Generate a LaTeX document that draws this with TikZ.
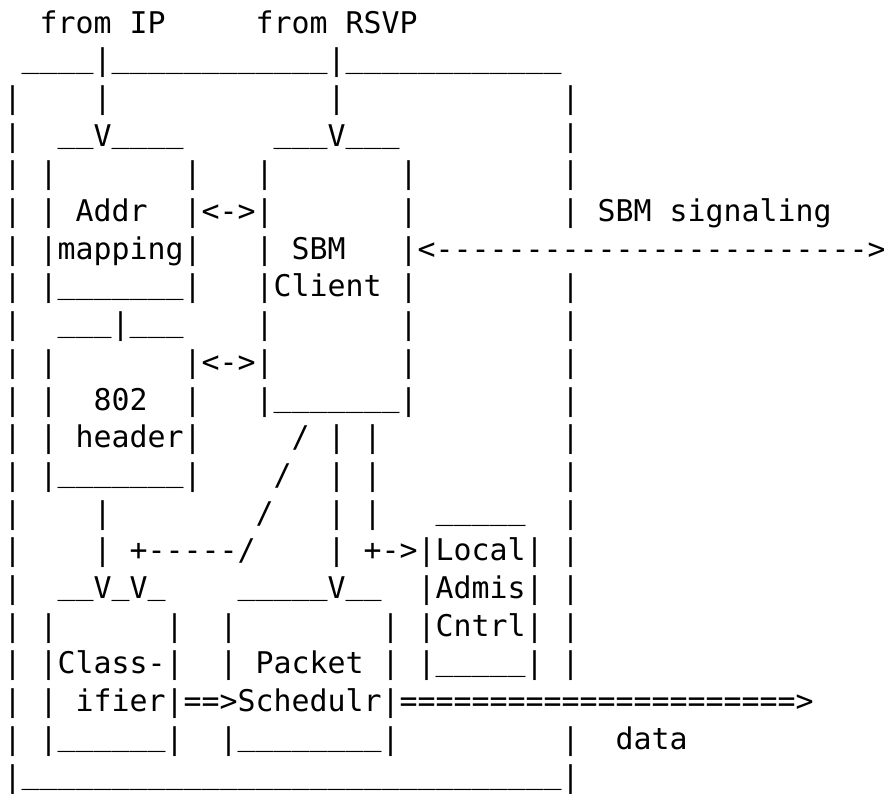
\documentclass[tikz,border=0pt]{standalone}
\usepackage{fontspec}
\setmonofont{DejaVu Sans Mono}
\ExplSyntaxOn
\cs_new:Npn \myrep #1#2 { \prg_replicate:nn {#1} {#2} }
\ExplSyntaxOff
\newcommand\usc{\raisebox{0.12em}{\textunderscore}}
\tikzset{
  asciiline/.style={anchor=base west, inner sep=0pt, outer sep=0pt,
    font=\ttfamily\fontsize{22.42pt}{26pt}\selectfont}
}
\begin{document}
\begin{tikzpicture}[x=0.75pt,y=-0.75pt]
\useasboundingbox (0,0) rectangle (884,793);
\def\lx{3.7}
\node[asciiline] (l1) at (\lx,33.0+0*37.7) {~~from~IP~~~~~from~RSVP};
\node[asciiline] (l2) at (\lx,33.0+1*37.7) {~\myrep{4}{\usc}|\myrep{12}{\usc}|\myrep{12}{\usc}};
\node[asciiline] (l3) at (\lx,33.0+2*37.7) {|~~~~|\myrep{12}{~}|\myrep{12}{~}|};
\node[asciiline] (l4) at (\lx,33.0+3*37.7) {|~~\usc\usc V\myrep{4}{\usc}~~~~~\myrep{3}{\usc}V\myrep{3}{\usc}\myrep{9}{~}|};
\node[asciiline] (l5) at (\lx,33.0+4*37.7) {|~|\myrep{7}{~}|~~~|\myrep{7}{~}|\myrep{8}{~}|};
\node[asciiline] (l6) at (\lx,33.0+5*37.7) {|~|~Addr~~|<->|\myrep{7}{~}|\myrep{8}{~}|~SBM~signaling};
\node[asciiline] (l7) at (\lx,33.0+6*37.7) {|~|mapping|~~~|~SBM~~~|<\myrep{24}{-}>};
\node[asciiline] (l8) at (\lx,33.0+7*37.7) {|~|\myrep{7}{\usc}|~~~|Client~|\myrep{8}{~}|};
\node[asciiline] (l9) at (\lx,33.0+8*37.7) {|~~\myrep{3}{\usc}|\myrep{3}{\usc}~~~~|\myrep{7}{~}|\myrep{8}{~}|};
\node[asciiline] (l10) at (\lx,33.0+9*37.7) {|~|\myrep{7}{~}|<->|\myrep{7}{~}|\myrep{8}{~}|};
\node[asciiline] (l11) at (\lx,33.0+10*37.7) {|~|~~802~~|~~~|\myrep{7}{\usc}|\myrep{8}{~}|};
\node[asciiline] (l12) at (\lx,33.0+11*37.7) {|~|~header|~~~~~/~|~|\myrep{10}{~}|};
\node[asciiline] (l13) at (\lx,33.0+12*37.7) {|~|\myrep{7}{\usc}|~~~~/~~|~|\myrep{10}{~}|};
\node[asciiline] (l14) at (\lx,33.0+13*37.7) {|~~~~|\myrep{8}{~}/~~~|~|~~~\myrep{5}{\usc}~~|};
\node[asciiline] (l15) at (\lx,33.0+14*37.7) {|~~~~|~+\myrep{5}{-}/~~~~|~+->|Local|~|};
\node[asciiline] (l16) at (\lx,33.0+15*37.7) {|~~\usc\usc V\usc V\usc~~~~\myrep{5}{\usc}V\usc\usc~~|Admis|~|};
\node[asciiline] (l17) at (\lx,33.0+16*37.7) {|~|\myrep{6}{~}|~~|\myrep{8}{~}|~|Cntrl|~|};
\node[asciiline] (l18) at (\lx,33.0+17*37.7) {|~|Class-|~~|~Packet~|~|\myrep{5}{\usc}|~|};
\node[asciiline] (l19) at (\lx,33.0+18*37.7) {|~|~ifier|==>Schedulr|\myrep{22}{=}>};
\node[asciiline] (l20) at (\lx,33.0+19*37.7) {|~|\myrep{6}{\usc}|~~|\myrep{8}{\usc}|\myrep{9}{~}|~~data};
\node[asciiline] (l21) at (\lx,33.0+20*37.7) {|\myrep{30}{\usc}|};
\end{tikzpicture}
\end{document}
